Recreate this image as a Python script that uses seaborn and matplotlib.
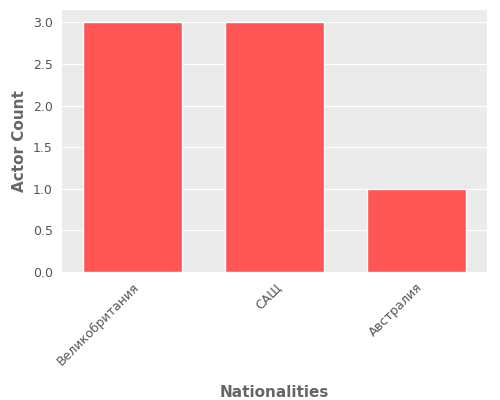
import matplotlib
matplotlib.use("Agg")
import matplotlib.pyplot as plt
import seaborn as sns
import pandas as pd

countries = ["Великобритания", "САЩ", "Австралия"]
counts = [3, 3, 1]

sns.set_style("darkgrid", {"axes.facecolor": "#EBEBEB", "grid.color": "white"})
plt.rcParams['font.family'] = ['DejaVu Sans']
df = pd.DataFrame({"Nationalities": countries, "Actor Count": counts})

fig, ax = plt.subplots(figsize=(5, 4), dpi=100)
fig.subplots_adjust(left=0.124, right=0.974, top=0.975, bottom=0.32)
sns.barplot(data=df, x="Nationalities", y="Actor Count", color="#FF5555", saturation=1, width=0.7, ax=ax)
ax.xaxis.grid(False)
for s in ax.spines.values():
    s.set_visible(False)
ax.set_yticks([0, 0.5, 1, 1.5, 2, 2.5, 3])
ax.set_yticklabels(["0.0", "0.5", "1.0", "1.5", "2.0", "2.5", "3.0"])
ax.tick_params(colors="#555555", labelsize=9, length=3, color="#cccccc")
plt.setp(ax.get_xticklabels(), rotation=45, ha="right", rotation_mode="anchor")
ax.set_xlabel("Nationalities", fontsize=11, fontweight="bold", color="#666666", labelpad=12)
ax.set_ylabel("Actor Count", fontsize=11, fontweight="bold", color="#666666")
fig.savefig("out.png")
